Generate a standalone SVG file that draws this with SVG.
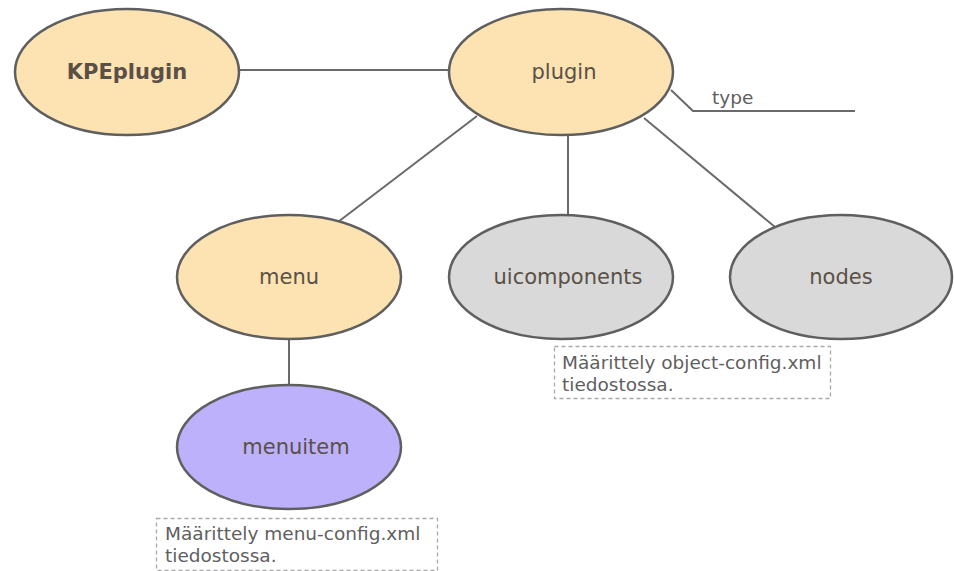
<svg xmlns="http://www.w3.org/2000/svg" width="954" height="571" viewBox="0 0 954 571">
  <style>
    .node { stroke: #5f5f5f; stroke-width: 2.5; }
    .peach { fill: #fde3b2; }
    .grey { fill: #d9d9d9; }
    .violet { fill: #bdb1fb; }
    .label { font-family: "DejaVu Sans", Verdana, sans-serif; font-size: 21px; text-anchor: middle; dominant-baseline: central; fill: #5a5046; }
    .edge { stroke: #6a6a6a; stroke-width: 2; fill: none; }
    .small { font-family: "DejaVu Sans", Verdana, sans-serif; font-size: 18.5px; fill: #5f5f5f; }
    .note rect { fill: #ffffff; stroke: #a9a9a9; stroke-width: 1.3; stroke-dasharray: 4 3; }
  </style>
  <rect width="954" height="571" fill="#ffffff"/>

  <g id="connectors">
    <line class="edge" x1="240" y1="70" x2="449" y2="70"/>
    <polyline class="edge" points="671,90 693,111 855,111"/>
    <line class="edge" x1="477" y1="116" x2="338" y2="222"/>
    <line class="edge" x1="568" y1="136" x2="568" y2="215"/>
    <line class="edge" x1="644" y1="118" x2="775" y2="227"/>
    <line class="edge" x1="289" y1="339" x2="289" y2="385"/>
  </g>

  <text class="small" x="712" y="104" font-size="17">type</text>

  <g id="KPEplugin">
    <ellipse class="node peach" cx="127" cy="72" rx="112" ry="63"/>
    <text class="label" x="127" y="72" font-weight="bold" fill="#4d4232">KPEplugin</text>
  </g>
  <g id="plugin">
    <ellipse class="node peach" cx="561" cy="72" rx="112" ry="63"/>
    <text class="label" x="564" y="72">plugin</text>
  </g>
  <g id="menu">
    <ellipse class="node peach" cx="289" cy="277" rx="112" ry="62"/>
    <text class="label" x="289" y="277">menu</text>
  </g>
  <g id="uicomponents">
    <ellipse class="node grey" cx="561" cy="277" rx="112" ry="62"/>
    <text class="label" x="568" y="277">uicomponents</text>
  </g>
  <g id="nodes">
    <ellipse class="node grey" cx="841" cy="277" rx="111" ry="62"/>
    <text class="label" x="841" y="277">nodes</text>
  </g>
  <g id="menuitem">
    <ellipse class="node violet" cx="289" cy="447" rx="112" ry="62"/>
    <text class="label" x="296" y="447" fill="#4e4868">menuitem</text>
  </g>

  <g id="note-object-config" class="note">
    <rect x="554.5" y="346.5" width="276" height="52"/>
    <text class="small" x="562" y="369">Määrittely object-config.xml</text>
    <text class="small" x="562" y="391">tiedostossa.</text>
  </g>
  <g id="note-menu-config" class="note">
    <rect x="156.5" y="518.5" width="281" height="52"/>
    <text class="small" x="165" y="540">Määrittely menu-config.xml</text>
    <text class="small" x="165" y="562">tiedostossa.</text>
  </g>
</svg>
